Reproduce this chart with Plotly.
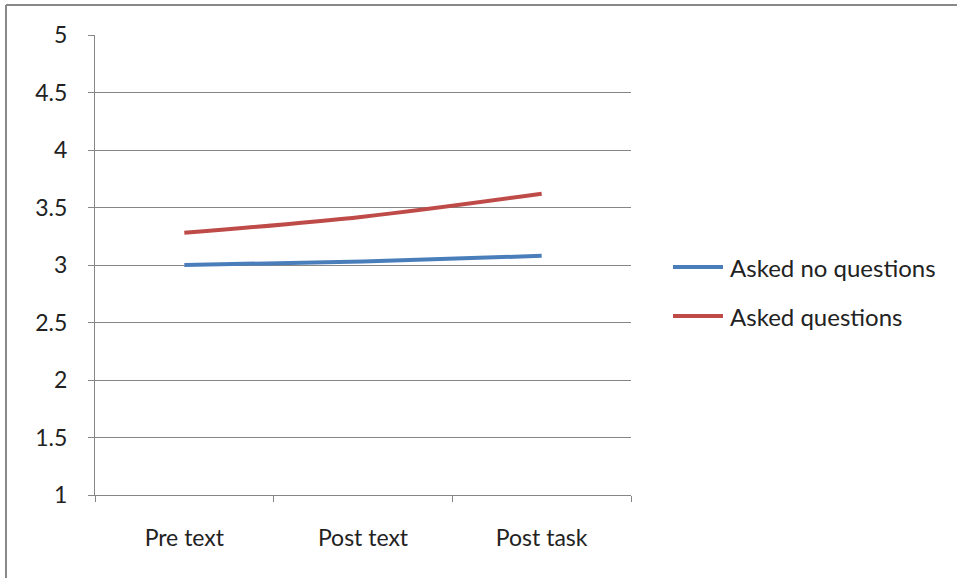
import plotly.graph_objects as go

# Survey stages and mean scores for each group
stages = ["Pre text", "Post text", "Post task"]
no_questions = [3.00, 3.03, 3.08]
asked_questions = [3.28, 3.42, 3.62]
y_ticks = [1, 1.5, 2, 2.5, 3, 3.5, 4, 4.5, 5]
series_names = ["Asked no questions", "Asked questions"]
series_colors = ["#4A7EBB", "#BE4B48"]

W, H = 957, 578
L, R, T, B = 95, 631, 35, 495

def px(x):
    return (x - L) / (R - L)

def py(y):
    return (B - y) / (B - T)

font = dict(family="Lato, Calibri, Noto Sans, sans-serif", size=23, color="#222222")
grid = "#868686"

fig = go.Figure()
for name, vals, color in zip(series_names, [no_questions, asked_questions], series_colors):
    fig.add_trace(go.Scatter(x=stages, y=vals, name=name, mode="lines",
                             line=dict(color=color, width=4, shape="spline"),
                             showlegend=False))

# Legend drawn to the right of the plot area: swatch line plus label
shapes = []
annotations = []
for i, (name, color) in enumerate(zip(series_names, series_colors)):
    yy = py(267 + 49 * i)
    shapes.append(dict(type="line", xref="paper", yref="paper",
                       x0=px(673), x1=px(723), y0=yy, y1=yy,
                       line=dict(color=color, width=4)))
    annotations.append(dict(text=name, xref="paper", yref="paper",
                            x=px(728), y=yy, xanchor="left", yanchor="middle",
                            showarrow=False, font=dict(font, size=24)))

# Chart frame (top and left edges)
shapes += [
    dict(type="line", xref="paper", yref="paper", x0=px(6), x1=px(960),
         y0=py(5), y1=py(5), line=dict(color="#888888", width=2)),
    dict(type="line", xref="paper", yref="paper", x0=px(6), x1=px(6),
         y0=py(5), y1=py(580), line=dict(color="#888888", width=2)),
]

fig.update_layout(
    width=W, height=H,
    margin=dict(l=L, r=W - R, t=T, b=H - B),
    paper_bgcolor="white", plot_bgcolor="white",
    font=font,
    showlegend=False,
    xaxis=dict(type="category", range=[-0.5, 2.5], tickson="boundaries",
               ticks="outside", ticklen=6, tickcolor=grid, showgrid=False,
               showline=True, linecolor=grid, linewidth=1,
               ticklabelstandoff=22, tickfont=font),
    yaxis=dict(range=[1, 5], tickvals=y_ticks, ticktext=[f"{v:g}" for v in y_ticks],
               ticks="outside", ticklen=6, tickcolor=grid,
               showgrid=True, gridcolor=grid, gridwidth=1,
               showline=True, linecolor=grid, linewidth=1,
               ticklabelstandoff=16, tickfont=font, zeroline=False),
    shapes=shapes,
    annotations=annotations,
)

fig.write_html("out.html")
